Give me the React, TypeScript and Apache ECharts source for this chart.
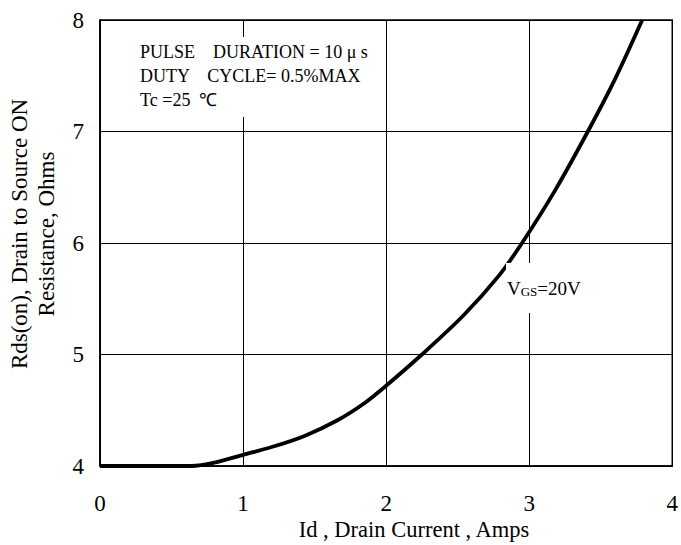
import React, { useEffect, useRef } from "react";
import * as echarts from "echarts";

const drainCurrent = [0, 0.3, 0.64, 0.8, 1.0, 1.2, 1.43, 1.66, 1.85, 2.0, 2.25, 2.54, 2.79, 2.95, 3.18, 3.41, 3.6, 3.79];
const rdsOn = [4.0, 4.0, 4.0, 4.03, 4.1, 4.17, 4.27, 4.41, 4.565, 4.72, 5.0, 5.35, 5.71, 6.0, 6.47, 7.0, 7.47, 8.0];
const xTicks = [0, 1, 2, 3, 4];
const yTicks = [4, 5, 6, 7, 8];
const noteLines = ["PULSE    DURATION = 10 μ s", "DUTY    CYCLE= 0.5%MAX", "Tc =25  ℃"];
const xTitle = "Id , Drain Current , Amps";
const yTitle = ["Rds(on), Drain to Source ON", "Resistance, Ohms"];

const FONT = "'Liberation Serif', 'Times New Roman', serif";

export default function App() {
  const ref = useRef<HTMLDivElement>(null);
  useEffect(() => {
    document.body.style.margin = "0";
    const chart = echarts.init(ref.current!, null, { renderer: "svg" });
    chart.setOption({
      animation: false,
      backgroundColor: "#fff",
      grid: { left: 100, right: 3, top: 20, bottom: 79, show: true, borderColor: "#000", borderWidth: 1.5 },
      xAxis: {
        type: "value",
        min: xTicks[0],
        max: xTicks[xTicks.length - 1],
        interval: 1,
        axisLine: { show: true, lineStyle: { color: "#000", width: 1.5 } },
        axisTick: { show: false },
        axisLabel: { color: "#000", fontFamily: FONT, fontSize: 23, margin: 26 },
        splitLine: { show: true, lineStyle: { color: "#000", width: 1 } },
      },
      yAxis: {
        type: "value",
        min: yTicks[0],
        max: yTicks[yTicks.length - 1],
        interval: 1,
        axisLine: { show: true, lineStyle: { color: "#000", width: 1.5 } },
        axisTick: { show: false },
        axisLabel: { color: "#000", fontFamily: FONT, fontSize: 23, margin: 16 },
        splitLine: { show: true, lineStyle: { color: "#000", width: 1 } },
      },
      series: [
        {
          type: "line",
          data: drainCurrent.map((x, i) => [x, rdsOn[i]]),
          showSymbol: false,
          smooth: 0.3,
          lineStyle: { color: "#000", width: 3.8 },
          z: 5,
        },
      ],
      graphic: [
        {
          type: "rect",
          z: 100,
          shape: { x: 136, y: 37, width: 244, height: 80 },
          style: { fill: "#fff" },
        },
        {
          type: "text",
          z: 101,
          x: 140,
          y: 40,
          style: {
            text: noteLines.join("\n"),
            font: `18px ${FONT}`,
            lineHeight: 24,
            fill: "#000",
          },
        },
        {
          type: "rect",
          z: 100,
          shape: { x: 506, y: 263, width: 60, height: 50 },
          style: { fill: "#fff" },
        },
        {
          type: "text",
          z: 101,
          x: 507,
          y: 288,
          style: {
            rich: {
              v: { fontFamily: FONT, fontSize: 19, fill: "#000", verticalAlign: "bottom" },
              s: { fontFamily: FONT, fontSize: 13, fill: "#000", verticalAlign: "bottom" },
            },
            text: "{v|V}{s|GS}{v|=20V}",
            textVerticalAlign: "middle",
          },
        },
        {
          type: "text",
          z: 101,
          x: 414,
          y: 529,
          style: {
            text: xTitle,
            font: `22.5px ${FONT}`,
            fill: "#000",
            textAlign: "center",
            textVerticalAlign: "middle",
          },
        },
        {
          type: "text",
          z: 101,
          x: 33,
          y: 234,
          rotation: Math.PI / 2,
          style: {
            text: yTitle.join("\n"),
            font: `23px ${FONT}`,
            lineHeight: 27,
            fill: "#000",
            textAlign: "center",
            textVerticalAlign: "middle",
          },
        },
      ],
    });
    return () => chart.dispose();
  }, []);
  return <div ref={ref} style={{ width: 681, height: 545 }} />;
}
